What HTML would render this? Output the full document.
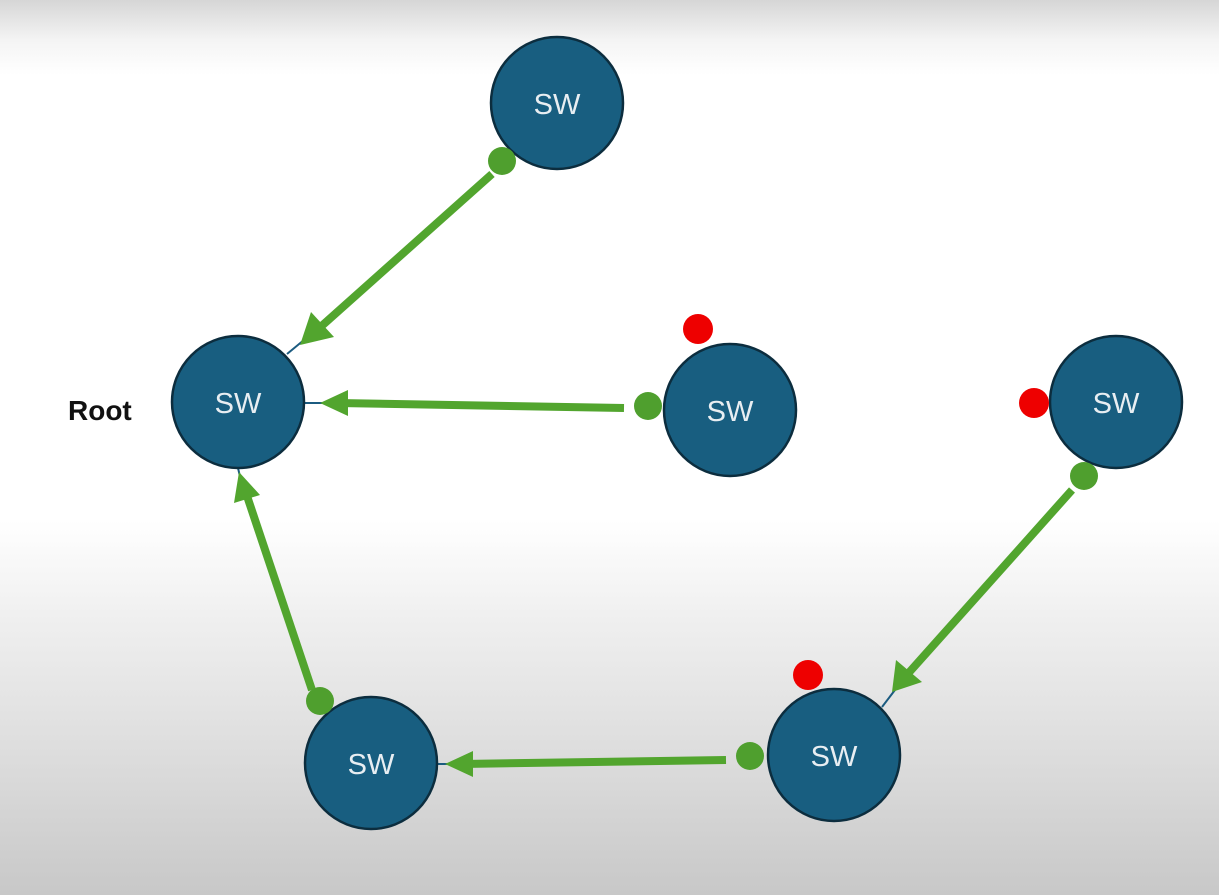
<!DOCTYPE html>
<html><head><meta charset="utf-8"><style>
html,body{margin:0;padding:0;}
body{width:1219px;height:895px;overflow:hidden;background:linear-gradient(to bottom,#d6d6d6 0px,#f4f4f4 40px,#ffffff 75px,#ffffff 520px,#efefef 620px,#dcdcdc 760px,#c8c8c8 895px);}
svg{position:absolute;left:0;top:0;}
</style></head><body>
<svg width="1219" height="895" xmlns="http://www.w3.org/2000/svg">
<g stroke="#1b5b80" stroke-width="2">
<line x1="287" y1="354" x2="310" y2="335"/>
<line x1="304" y1="403" x2="330" y2="403"/>
<line x1="238" y1="468" x2="242" y2="485"/>
<line x1="437" y1="764" x2="458" y2="764"/>
<line x1="882" y1="707" x2="898" y2="686"/>
</g>
<g stroke="#52a52e" stroke-width="8" fill="none">
<line x1="492" y1="174" x2="316" y2="331"/>
<line x1="624" y1="408" x2="338" y2="403"/>
<line x1="312" y1="690" x2="245" y2="490"/>
<line x1="726" y1="760" x2="462" y2="764"/>
<line x1="1072" y1="490" x2="905" y2="677"/>
</g>
<g fill="#52a52e">
<polygon points="300,345 311,312 334,337"/>
<polygon points="320,403 348,390 348,416"/>
<polygon points="239,472 234,503 260,495"/>
<polygon points="445,764 473,751 473,777"/>
<polygon points="892,692 896,660 922,682"/>
</g>
<g fill="#185e80" stroke="#0c2d3e" stroke-width="2.5">
<circle cx="557" cy="103" r="66"/>
<circle cx="238" cy="402" r="66"/>
<circle cx="730" cy="410" r="66"/>
<circle cx="1116" cy="402" r="66"/>
<circle cx="371" cy="763" r="66"/>
<circle cx="834" cy="755" r="66"/>
</g>
<g fill="#e8eef2" font-family="Liberation Sans, sans-serif" font-size="29" text-anchor="middle">
<text x="557" y="114">SW</text>
<text x="238" y="413">SW</text>
<text x="730" y="421">SW</text>
<text x="1116" y="413">SW</text>
<text x="371" y="774">SW</text>
<text x="834" y="766">SW</text>
</g>
<text x="68" y="420" font-family="Liberation Sans, sans-serif" font-size="28" font-weight="bold" fill="#111">Root</text>
<g fill="#4f9f2e">
<circle cx="502" cy="161" r="14"/>
<circle cx="648" cy="406" r="14"/>
<circle cx="1084" cy="476" r="14"/>
<circle cx="320" cy="701" r="14"/>
<circle cx="750" cy="756" r="14"/>
</g>
<g fill="#ee0000">
<circle cx="698" cy="329" r="15"/>
<circle cx="1034" cy="403" r="15"/>
<circle cx="808" cy="675" r="15"/>
</g>
</svg>
</body></html>
